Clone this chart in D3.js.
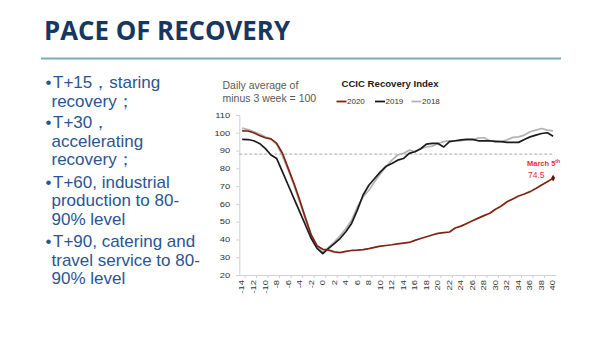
<!DOCTYPE html>
<html>
<head>
<meta charset="utf-8">
<script src="https://d3js.org/d3.v7.min.js"></script>
<style>
  body { margin: 0; background: #fff; }
</style>
</head>
<body>
<div id="slide"></div>
<script>
// days relative to T (lockdown day)
var days = d3.range(-14, 41);

// CCIC recovery index, daily average of minus 3 week = 100
var idx2020 = [101.1, 101, 100, 98.5, 97.2, 96.6, 94, 88.5, 80, 71.5, 62, 52, 42.5, 36.5,
  34.5, 34, 33, 32.6, 33.3, 33.8, 34, 34.3, 34.8, 35.5, 36.2, 36.6, 37, 37.5, 37.9, 38.3,
  39.5, 40.5, 41.5, 42.5, 43.4, 43.8, 44.2, 46.4, 47.5, 49, 50.5, 52, 53.4, 54.7, 57, 58.8,
  61.2, 62.8, 64.4, 65.6, 66.9, 68.7, 70.6, 72.5, 74.5];
var idx2019 = [96.3, 96.2, 95.5, 94, 91.2, 87.5, 85.5, 78, 70.5, 63, 55.5, 48, 40.5, 35,
  32, 35, 37.7, 40.5, 44.3, 49, 56.5, 65, 70.5, 74.3, 78, 81.2, 82.7, 84.6, 85.5, 88.4,
  89.3, 91, 93.6, 94, 94, 92, 95, 95.5, 96, 96.3, 96.3, 95.5, 95.5, 95.5, 95, 95, 94.6,
  94.6, 94.6, 96.2, 97.7, 98.7, 99.6, 100, 98];
var idx2018 = [102.6, 101.8, 100.6, 99.3, 97.8, 96.5, 93.5, 87, 79, 70.5, 61, 51, 41.5, 35.5,
  33, 35.5, 38.5, 42, 46, 50.8, 58.3, 64, 67.7, 72.4, 77, 80.8, 84.6, 87.5, 88.4, 90.2,
  89.4, 91, 92, 92.5, 94, 95, 95.5, 95.5, 95.5, 96, 96, 97, 97.2, 95.5, 95.5, 95, 96,
  97.4, 97.7, 98.7, 100.6, 101.5, 102.4, 101.5, 101.1];

var yTicks = d3.range(20, 111, 10);
var xLabels = days.filter(d => d % 2 === 0);
var threshold = 88;

var bullets = [
  ["T+15，staring", "recovery；"],
  ["T+30，", "accelerating", "recovery；"],
  ["T+60, industrial", "production to 80-", "90% level"],
  ["T+90, catering and", "travel service to 80-", "90% level"]
];

var series = [
  { name: "2020", values: idx2020, color: "#7e2412" },
  { name: "2019", values: idx2019, color: "#1b1b1b" },
  { name: "2018", values: idx2018, color: "#b3b3b3" }
];

// svg
var svgWidth = 600;
var svgHeight = 337;

var svg = d3.select("#slide")
  .append("svg")
  .attr("width", svgWidth)
  .attr("height", svgHeight);

// title + rule
svg.append("text")
  .attr("x", 44)
  .attr("y", 39.5)
  .attr("font-family", "Open Sans")
  .attr("font-weight", "bold")
  .attr("font-size", 26)
  .attr("fill", "#17375e")
  .attr("textLength", 246)
  .attr("lengthAdjust", "spacingAndGlyphs")
  .text("PACE OF RECOVERY");

svg.append("line")
  .attr("x1", 41).attr("x2", 561)
  .attr("y1", 58.5).attr("y2", 58.5)
  .attr("stroke", "#7aafaf")
  .attr("stroke-width", 2);

// bullet text on the left
var textGroup = svg.append("g")
  .attr("font-family", "Liberation Sans")
  .attr("font-size", 17)
  .attr("fill", "#2b5590");

var baseY = [[88.3, 106.7], [127.7, 146.7, 165], [187.7, 205.7, 225], [247.3, 265.7, 284.3]];

bullets.forEach(function(lines, i) {
  textGroup.append("text")
    .attr("x", 45.5)
    .attr("y", baseY[i][0])
    .text("•");
  lines.forEach(function(line, j) {
    textGroup.append("text")
      .attr("x", j === 0 ? 53 : 51.5)
      .attr("y", baseY[i][j])
      .text(line);
  });
});

// chart area (avoid window.top etc.)
var plotLeft = 239.3, plotRight = 556, plotTop = 115, plotBottom = 275;

var xBand = d3.scaleBand()
  .domain(days)
  .range([plotLeft, plotRight])
  .padding(0);

var xMid = d => xBand(d) + xBand.bandwidth() / 2;

var yLinearScale = d3.scaleLinear()
  .domain([20, 110])
  .range([plotBottom, plotTop]);

// y axis
var yAxis = svg.append("g")
  .attr("transform", `translate(${plotLeft}, 0)`)
  .call(d3.axisLeft(yLinearScale).tickValues(yTicks).tickSize(3).tickPadding(6));

yAxis.select(".domain").attr("stroke", "#d0d0d0");
yAxis.selectAll(".tick line").attr("stroke", "#d0d0d0");
yAxis.selectAll(".tick text")
  .attr("font-family", "Liberation Sans")
  .attr("font-size", 6.5)
  .attr("fill", "#333")
  .attr("dy", "0.35em")
  .attr("transform", "scale(1.45,1)")
  .attr("x", -9 / 1.45);

// x axis line + tick marks on every other category boundary
var xAxis = svg.append("g")
  .attr("transform", `translate(0, ${plotBottom})`)
  .call(d3.axisBottom(xBand).tickValues([]).tickSizeOuter(0));

xAxis.select(".domain").attr("stroke", "#d0d0d0");

xAxis.selectAll(".boundary")
  .data(xLabels.slice(1))
  .enter()
  .append("line")
  .attr("class", "boundary")
  .attr("x1", d => xBand(d) - xBand.bandwidth())
  .attr("x2", d => xBand(d) - xBand.bandwidth())
  .attr("y1", 0)
  .attr("y2", 3)
  .attr("stroke", "#d0d0d0");

xAxis.selectAll(".xlabel")
  .data(xLabels)
  .enter()
  .append("text")
  .attr("class", "xlabel")
  .attr("transform", d => `translate(${xMid(d) + 2.3}, 5) rotate(-90) scale(1.45,1)`)
  .attr("text-anchor", "end")
  .attr("font-family", "Liberation Sans")
  .attr("font-size", 6.5)
  .attr("fill", "#333")
  .text(d => d);

// dashed 88 line
svg.append("line")
  .attr("x1", plotLeft).attr("x2", 554)
  .attr("y1", yLinearScale(threshold)).attr("y2", yLinearScale(threshold))
  .attr("stroke", "#a8a8a8")
  .attr("stroke-width", 1)
  .attr("stroke-dasharray", "3,2");

// lines (2018 first so 2020 sits on top)
var line = d3.line()
  .x((v, i) => xMid(days[i]))
  .y(v => yLinearScale(v));

series.slice().reverse().forEach(function(s) {
  svg.append("path")
    .datum(s.values)
    .attr("fill", "none")
    .attr("stroke", s.color)
    .attr("stroke-width", 1.7)
    .attr("stroke-linejoin", "round")
    .attr("d", line);
});

// end marker for 2020
var lastDay = days[days.length - 1];
var lastVal = idx2020[idx2020.length - 1];
svg.append("path")
  .attr("d", d3.symbol().type(d3.symbolDiamond).size(14))
  .attr("transform", `translate(${xMid(lastDay)}, ${yLinearScale(lastVal)})`)
  .attr("fill", "#5a1a0c");

// annotation
svg.append("text")
  .attr("x", 527)
  .attr("y", 166)
  .attr("font-family", "Liberation Sans")
  .attr("font-weight", "bold")
  .attr("font-size", 7.5)
  .attr("fill", "#e0313a")
  .text("March 5")
  .append("tspan")
  .attr("font-size", 5)
  .attr("dy", -3)
  .text("th");

svg.append("text")
  .attr("x", 528)
  .attr("y", 178.3)
  .attr("font-family", "Liberation Sans")
  .attr("font-size", 8.5)
  .attr("fill", "#e0313a")
  .text(lastVal);

// chart captions
var caption = svg.append("g")
  .attr("font-family", "Liberation Sans")
  .attr("font-size", 10.5)
  .attr("fill", "#595959");

caption.append("text").attr("x", 222.5).attr("y", 89.3).text("Daily average of");
caption.append("text").attr("x", 222.5).attr("y", 101.7).text("minus 3 week = 100");

svg.append("text")
  .attr("x", 341.5)
  .attr("y", 86.7)
  .attr("font-family", "Liberation Sans")
  .attr("font-weight", "bold")
  .attr("font-size", 9.6)
  .attr("fill", "#1a1a1a")
  .text("CCIC Recovery Index");

// legend
var legendX = [336.5, 375, 411.5];

var legend = svg.selectAll(".legend")
  .data(series)
  .enter()
  .append("g")
  .attr("class", "legend")
  .attr("transform", (d, i) => `translate(${legendX[i]}, 101.5)`);

legend.append("line")
  .attr("x1", 0).attr("x2", 10)
  .attr("stroke", d => d.color)
  .attr("stroke-width", 1.8);

legend.append("text")
  .attr("x", 10.5)
  .attr("y", 2.8)
  .attr("font-family", "Liberation Sans")
  .attr("font-size", 8)
  .attr("fill", "#333")
  .text(d => d.name);
</script>
</body>
</html>
